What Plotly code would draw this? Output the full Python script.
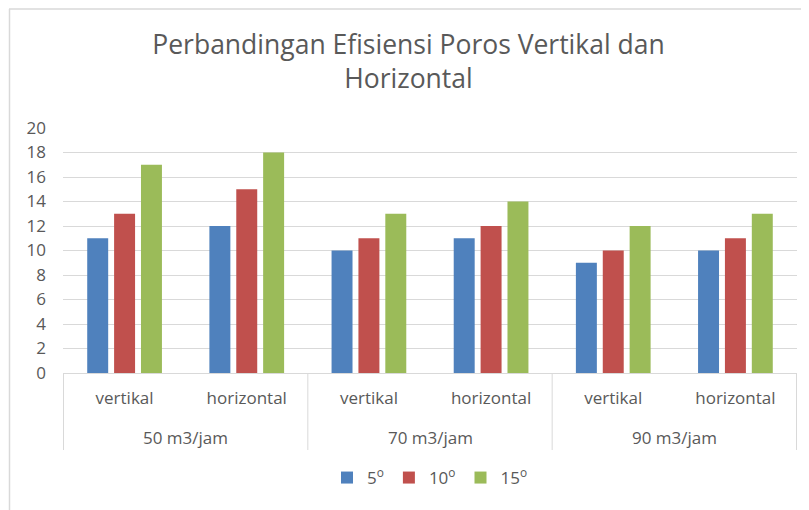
import plotly.graph_objects as go

groups = ["50 m3/jam", "50 m3/jam", "70 m3/jam", "70 m3/jam", "90 m3/jam", "90 m3/jam"]
subcats = ["vertikal", "horizontal", "vertikal", "horizontal", "vertikal", "horizontal"]
group_labels = ["50 m3/jam", "70 m3/jam", "90 m3/jam"]
series_names = ["5<sup>o</sup>", "10<sup>o</sup>", "15<sup>o</sup>"]
vals_5 = [11, 12, 10, 11, 9, 10]
vals_10 = [13, 15, 11, 12, 10, 11]
vals_15 = [17, 18, 13, 14, 12, 13]
colors = ["#4F81BD", "#C0504D", "#9BBB59"]
y_ticks = list(range(0, 21, 2))

FONT = "Open Sans, Lato, sans-serif"
TXT = "#595959"
GRID = "#D9D9D9"

keys = [f"{g} | {s}" for g, s in zip(groups, subcats)]

fig = go.Figure()
for name, vals, col in zip(series_names, [vals_5, vals_10, vals_15], colors):
    fig.add_trace(go.Bar(x=keys, y=vals, name=name, marker_color=col, marker_line_width=0))

OFF = 8  # page body margin
W, H = 809 - OFF, 510 - OFF
# plot area in screenshot pixels
SL, SR, ST, SB = 63, 797, 128, 373
L, T = SL - OFF, ST - OFF
R, B = W - (SR - OFF), H - (SB - OFF)
pw, ph = W - L - R, H - T - B


def py(y):
    return ((SB - OFF) - (y - OFF)) / ph


def px(x):
    return ((x - OFF) - L) / pw


shapes = []
n = len(keys)
for i in range(0, n + 1, 2):
    shapes.append(dict(type="line", xref="x", yref="paper", x0=i - 0.5, x1=i - 0.5,
                       y0=0, y1=py(450), line=dict(color=GRID, width=1)))
shapes.append(dict(type="line", xref="paper", yref="paper", x0=px(9), x1=px(820),
                   y0=py(9), y1=py(9), line=dict(color=GRID, width=1.5)))
shapes.append(dict(type="line", xref="paper", yref="paper", x0=px(9.5), x1=px(9.5),
                   y0=py(9), y1=py(520), line=dict(color=GRID, width=1.5)))

annotations = []
for k, gl in enumerate(group_labels):
    annotations.append(dict(text=gl, xref="x", yref="paper", x=2 * k + 0.5, y=py(437),
                            showarrow=False, yanchor="middle", xanchor="center",
                            font=dict(size=17, color=TXT, family=FONT)))

fig.update_layout(
    width=W, height=H,
    margin=dict(l=L, r=R, t=T, b=B, autoexpand=False),
    paper_bgcolor="white", plot_bgcolor="white",
    font=dict(family=FONT, color=TXT, size=17),
    title=dict(text="Perbandingan Efisiensi Poros Vertikal dan<br>Horizontal",
               x=0.5, xanchor="center", y=1 - 46 / H, yanchor="top",
               font=dict(size=26.5, color=TXT, family=FONT)),
    barmode="group", bargap=0.34, bargroupgap=0.22,
    showlegend=True,
    legend=dict(orientation="h", x=px(430), xanchor="center", y=py(478), yanchor="middle",
                font=dict(size=17, color=TXT), itemwidth=30, traceorder="normal"),
    xaxis=dict(type="category", showline=True, linecolor=GRID, linewidth=1,
               tickvals=keys, ticktext=subcats, ticks="", showgrid=False,
               tickfont=dict(size=17, color=TXT), ticklabelstandoff=10),
    yaxis=dict(range=[0, 20], tickvals=y_ticks, showgrid=True, gridcolor=GRID,
               gridwidth=1, zeroline=False, showline=False, ticks="",
               tickfont=dict(size=17, color=TXT), ticklabelstandoff=16),
    shapes=shapes,
    annotations=annotations,
)

fig.write_html("out.html")
